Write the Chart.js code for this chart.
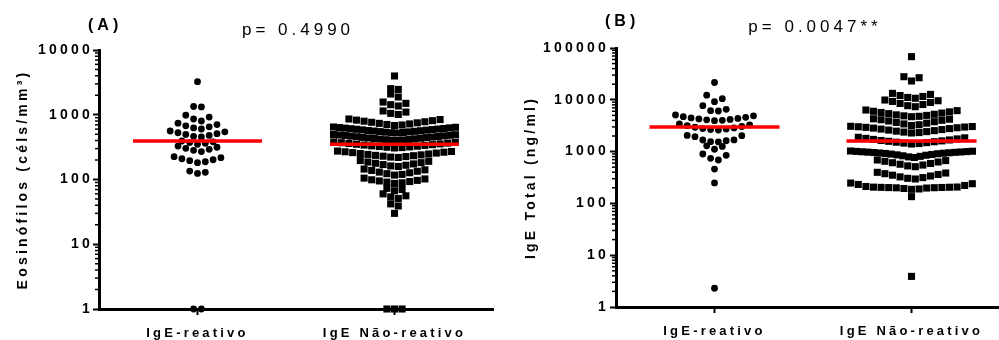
<!DOCTYPE html>
<html><head><meta charset="utf-8">
<script src="https://cdn.jsdelivr.net/npm/chart.js@4"></script>
<style>
html,body{margin:0;padding:0;background:#fff;overflow:hidden;width:999px;height:340px;}
#wa{position:absolute;left:0;top:0;width:500px;height:340px;}
#wb{position:absolute;left:500px;top:0;width:520px;height:340px;}
</style></head><body>
<div id="wa"><canvas id="ca" width="500" height="340"></canvas></div>
<div id="wb"><canvas id="cb" width="520" height="340"></canvas></div>
<script>
// ---------- data ----------
const categories = ['IgE-reativo', 'IgE Não-reativo'];
const panelLabels = ['(A)', '(B)'];
const pValues = ['p= 0.4990', 'p= 0.0047**'];
const yTitles = ['Eosinófilos (céls/mm³)', 'IgE Total (ng/ml)'];
const eosTicks = [1, 10, 100, 1000, 10000];
const igeTicks = [1, 10, 100, 1000, 10000, 100000];
const eosMedians = [393, 349];
const igeMedians = [2985, 1603];

const eosReativo = [1, 1,
  124, 129, 135,
  182, 188, 195, 202, 209, 217, 225,
  270, 282, 292, 303, 315, 328,
  350, 362, 372, 382, 393,
  455, 465, 480, 495, 510, 527, 544, 561,
  602, 625, 650, 675, 705, 740,
  800, 860, 920, 985,
  1320, 1340,
  3240];

const eosNaoReativo = [1, 1, 1,
  30,
  39, 42,
  51, 54, 56, 60,
  67, 70, 73,
  87, 89, 91, 93, 95, 97, 99, 102, 105,
  117, 120, 123, 127, 130, 134, 138, 141, 145,
  159, 162, 166, 170, 174, 178, 182, 186, 191, 196,
  219, 222, 226, 229, 233, 236, 240, 244, 248, 252, 256, 260, 264, 268, 271, 275,
  307, 311, 315, 319, 323, 327, 331, 336, 340, 345, 350, 355, 360, 365, 370, 375, 380,
  400, 404, 408, 412, 416, 420, 425, 429, 434, 438, 443, 447, 452, 457, 462, 467, 472, 477, 482, 487, 491, 496,
  523, 528, 533, 538, 544, 549, 555, 560, 566, 572, 578, 584, 590, 596, 602, 608, 614, 621, 627, 634, 640, 647,
  682, 695, 708, 722, 736, 750, 765, 780, 795, 810, 826, 843, 860,
  1010, 1050, 1100, 1145,
  1365, 1430, 1500, 1570,
  1880, 2090,
  2460, 2530,
  3970];

const igeReativo = [2.3, 248, 460,
  689, 743, 848, 898,
  1110, 1260, 1290,
  1540, 1555, 1620, 1675, 1680, 1940, 2030, 2050,
  2610, 2660, 2720, 2780, 2860, 2950, 3050, 3160, 3280, 3410,
  3950, 4020, 4100, 4180, 4270, 4360, 4460, 4580, 4720, 4900, 5090,
  6080, 6160, 6550, 7690,
  9190, 10500, 12300,
  21600];

const igeNaoReativo = [3.9, 135,
  187, 190, 194, 198, 200, 201, 202, 203, 204, 205, 206, 207, 212, 222, 232, 240, 247,
  296, 305, 315, 325, 338, 350, 362, 375, 386, 398,
  511, 530, 550, 570, 590, 610, 630, 650, 670, 689,
  769, 790, 810, 830, 850, 865, 880, 895, 910, 920, 930, 940, 950, 960, 968, 976, 984, 992, 1000, 1008, 1017, 1027,
  1402, 1430, 1460, 1490, 1520, 1550, 1580, 1610, 1640, 1680, 1720, 1760, 1800, 1845, 1888,
  2286, 2330, 2380, 2430, 2480, 2540, 2600, 2660, 2720, 2780, 2840, 2890, 2940, 2980, 3020, 3050, 3080,
  3190, 3300, 3420, 3540, 3660, 3780, 3900, 4020, 4120, 4220, 4300,
  4720, 4800, 4900, 5000, 5120, 5250, 5400, 5550, 5700, 5850, 6000, 6180, 6350,
  7360, 7700, 8100, 8500, 8900, 9300, 9600, 9900,
  10700, 11100, 11600, 12100, 12700, 13300,
  23100, 26700, 27900,
  68000];

// ---------- rendering ----------
const FONT = "'Liberation Sans', Arial, Helvetica, sans-serif";
Chart.defaults.font.family = FONT;
Chart.defaults.color = '#000';

const decor = {
  id: 'decor',
  beforeDraw(chart) { chart.ctx.letterSpacing = '3.2px'; },
  afterDraw(chart, args, opts) {
    const ctx = chart.ctx, ys = chart.scales.y, ca = chart.chartArea;
    ctx.save();
    ctx.strokeStyle = '#000';
    ctx.lineWidth = 1.5;
    const lo = Math.round(Math.log10(ys.min)), hi = Math.round(Math.log10(ys.max));
    for (let k = lo; k < hi; k++) {
      for (let m = 2; m <= 9; m++) {
        const py = ys.getPixelForValue(m * Math.pow(10, k));
        ctx.beginPath(); ctx.moveTo(ca.left - 4, py); ctx.lineTo(ca.left, py); ctx.stroke();
      }
    }
    ctx.fillStyle = '#000';
    ctx.letterSpacing = '4px';
    ctx.font = 'bold 16px ' + FONT;
    ctx.textAlign = 'left';
    ctx.textBaseline = 'alphabetic';
    ctx.fillText(opts.label, opts.labelX, opts.labelY);
    ctx.font = '17px ' + FONT;
    ctx.textAlign = 'center';
    ctx.fillText(opts.p, (ca.left + ca.right) / 2 + 2, opts.pY);
    ctx.restore();
  }
};

function makeChart(canvas, cfg) {
  const axisGrid = {drawOnChartArea: false, drawTicks: true, tickLength: 6, tickWidth: 2, tickColor: '#000', color: '#000'};
  const axisBorder = {display: true, color: '#000', width: 3};
  const med = (cat, v) => ({
    data: [{x: cat - cfg.half, y: v}, {x: cat + cfg.half, y: v}],
    showLine: true, borderColor: '#ff0000', borderWidth: 3.5, borderCapStyle: 'butt',
    pointRadius: 0, order: 1, clip: false
  });
  return new Chart(canvas, {
    type: 'scatter',
    data: {datasets: [
      {data: cfg.g1.map(v => ({x: 1, y: v})), pointStyle: 'circle', pointRadius: 3.4,
       pointBackgroundColor: '#000', pointBorderColor: '#000', pointBorderWidth: 0, clip: false, order: 2},
      {data: cfg.g2.map(v => ({x: 3, y: v})), pointStyle: 'rect', pointRadius: 5,
       pointBackgroundColor: '#000', pointBorderColor: '#000', pointBorderWidth: 0, clip: false, order: 2},
      med(1, cfg.med[0]),
      med(3, cfg.med[1])
    ]},
    options: {
      responsive: false, animation: false, events: [],
      layout: {padding: cfg.pad, autoPadding: false},
      plugins: {legend: {display: false}, tooltip: {enabled: false},
        decor: {label: cfg.label, labelX: cfg.labelX, labelY: cfg.labelY, p: cfg.p, pY: cfg.pY}},
      scales: {
        x: {type: 'linear', min: 0, max: 4,
          afterBuildTicks: s => { s.ticks = [{value: 1}, {value: 3}]; },
          afterFit: s => { s.height = cfg.xh; },
          grid: axisGrid, border: axisBorder,
          ticks: {callback: v => (v === 1 ? categories[0] : categories[1]), autoSkip: false, maxRotation: 0,
            padding: 11, font: {size: 13, weight: 'bold'}, color: '#000'}},
        y: {type: 'logarithmic', min: 1, max: cfg.ticks[cfg.ticks.length - 1],
          afterBuildTicks: s => { s.ticks = cfg.ticks.map(v => ({value: v})); },
          afterFit: s => { s.width = cfg.yw; },
          grid: axisGrid, border: axisBorder,
          ticks: {callback: v => String(v), autoSkip: false, padding: cfg.tp, font: {size: 14, weight: 'bold'}, color: '#000'},
          title: {display: true, text: cfg.ytitle, color: '#000', font: {size: 14, weight: 'bold'}, padding: {top: cfg.titlePad, bottom: 0}}}
      }
    },
    plugins: [decor]
  });
}

// Prism-style scatter layout: rows by pixel height, centred, compressed if too wide
function swarm(chart, dsIndex, values, cat, spacing) {
  const xs = chart.scales.x, ys = chart.scales.y;
  const cx = xs.getPixelForValue(cat);
  const h = 7, maxW = 122;
  const pts = values.map(v => ({v, py: ys.getPixelForValue(v)})).sort((a, b) => a.v - b.v);
  const out = [];
  let i = 0;
  while (i < pts.length) {
    const y0 = pts[i].py;
    const row = [];
    while (i < pts.length && (row.length === 0 || pts[i].py > y0 - h)) { row.push(pts[i]); i++; }
    const n = row.length;
    const s = n > 1 ? Math.min(spacing, maxW / (n - 1)) : 0;
    const slots = [];
    for (let k = 0; k < n; k++) slots.push((k - (n - 1) / 2) * s);
    slots.sort((a, b) => (Math.abs(a) - Math.abs(b)) || (b - a));
    row.forEach((p, j) => out.push({x: xs.getValueForPixel(cx + slots[j]), y: p.v}));
  }
  chart.data.datasets[dsIndex].data = out;
}

const chartA = makeChart(document.getElementById('ca'), {
  g1: eosReativo, g2: eosNaoReativo, med: eosMedians, half: 0.655, ticks: eosTicks,
  pad: {left: 0, right: 7, top: 50, bottom: 0}, yw: 99, xh: 31, tp: 0, titlePad: 15,
  ytitle: yTitles[0], label: panelLabels[0], labelX: 88, labelY: 29.5, p: pValues[0], pY: 35
});
const chartB = makeChart(document.getElementById('cb'), {
  g1: igeReativo, g2: igeNaoReativo, med: igeMedians, half: 0.66, ticks: igeTicks,
  pad: {left: 0, right: 10, top: 48, bottom: 0}, yw: 116, xh: 33, tp: 1, titlePad: 23,
  ytitle: yTitles[1], label: panelLabels[1], labelX: 105, labelY: 25.5, p: pValues[1], pY: 31.7
});

[[chartA, eosReativo, eosNaoReativo], [chartB, igeReativo, igeNaoReativo]].forEach(([c, g1, g2]) => {
  swarm(c, 0, g1, 1, 7.8);
  swarm(c, 1, g2, 3, 7.6);
  c.update('none');
});
</script>
</body></html>
